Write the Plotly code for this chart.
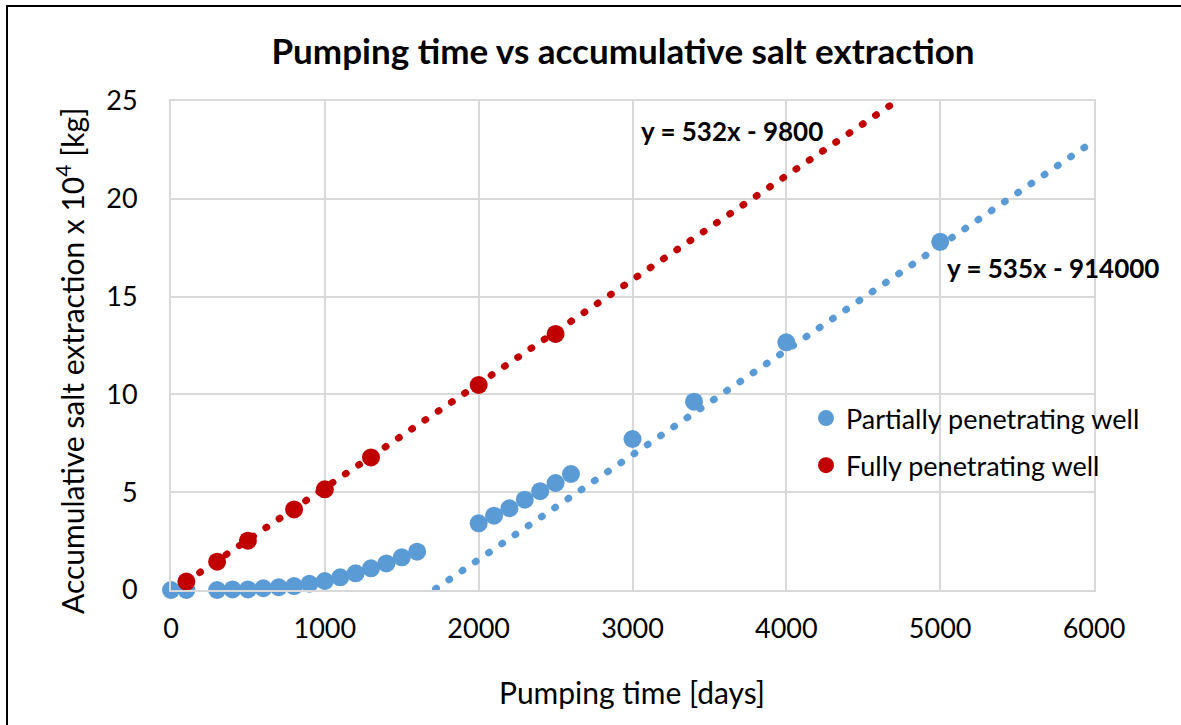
import plotly.graph_objects as go

# ---- data (y in units of 10^4 kg) ----
partial_days = [0, 100, 300, 400, 500, 600, 700, 800, 900, 1000, 1100, 1200, 1300, 1400, 1500, 1600,
                2000, 2100, 2200, 2300, 2400, 2500, 2600, 3000, 3400, 4000, 5000]
partial_salt = [0.0, 0.0, 0.0, 0.03, 0.03, 0.09, 0.14, 0.2, 0.32, 0.46, 0.65, 0.85, 1.11, 1.36, 1.67, 1.96,
                3.41, 3.80, 4.18, 4.62, 5.05, 5.47, 5.93, 7.72, 9.63, 12.66, 17.8]

full_days = [100, 300, 500, 800, 1000, 1300, 2000, 2500]
full_salt = [0.43, 1.45, 2.52, 4.12, 5.15, 6.78, 10.48, 13.09]

# trendline equations as displayed (kg vs days), drawn scaled to the plotted units
partial_trend = {"slope": 535, "intercept": -914000}
full_trend = {"slope": 532, "intercept": -9800}
trend_scale = 1e5
partial_trend_x = [0, 6000]
full_trend_x = [100, 6000]

x_ticks = [0, 1000, 2000, 3000, 4000, 5000, 6000]
y_ticks = [0, 5, 10, 15, 20, 25]

BLUE = "#5b9bd5"
RED = "#c00000"
FONT = "Lato"

def trend_y(tr, xs):
    return [(tr["slope"] * x + tr["intercept"]) / trend_scale for x in xs]

fig = go.Figure()

fig.add_trace(go.Scatter(
    x=partial_days, y=partial_salt, mode="markers", name="Partially penetrating well",
    marker=dict(color=BLUE, size=18, line=dict(width=0)), cliponaxis=False, legendgroup="a"))
fig.add_trace(go.Scatter(
    x=full_days, y=full_salt, mode="markers", name="Fully penetrating well",
    marker=dict(color=RED, size=18, line=dict(width=0)), cliponaxis=False, legendgroup="b"))

fig.add_trace(go.Scatter(
    x=partial_trend_x, y=trend_y(partial_trend, partial_trend_x), mode="lines", showlegend=False,
    line=dict(color=BLUE, width=7, dash="1px,15px"), hoverinfo="skip"))
fig.add_trace(go.Scatter(
    x=full_trend_x, y=trend_y(full_trend, full_trend_x), mode="lines", showlegend=False,
    line=dict(color=RED, width=7, dash="1px,15px"), hoverinfo="skip"))

L, R, T, B = 171, 87, 101, 135
W, H = 1181, 725
pw, ph = W - L - R, H - T - B

def px_to_paper_x(px):
    return (px - L) / pw

def px_to_paper_y(py):
    return (H - B - py) / ph

axis_common = dict(
    showgrid=True, gridcolor="#d9d9d9", gridwidth=2,
    showline=True, linecolor="#d9d9d9", linewidth=2, mirror=True,
    zeroline=False, ticks="", tickfont=dict(family=FONT, size=27, color="#000"),
)

fig.update_layout(
    width=W, height=H,
    margin=dict(l=L, r=R, t=T, b=B),
    paper_bgcolor="white", plot_bgcolor="white",
    title=dict(text="<b>Pumping time vs accumulative salt extraction</b>",
               x=623 / W, xref="container", xanchor="center",
               y=1 - 52 / H, yref="container", yanchor="middle",
               font=dict(family=FONT, size=35, color="#000")),
    xaxis=dict(range=[0, 6000], tickvals=x_ticks, ticklabelstandoff=14, **axis_common),
    yaxis=dict(range=[0, 25], tickvals=y_ticks, ticklabelstandoff=26, **axis_common),
    legend=dict(x=px_to_paper_x(806), y=px_to_paper_y(394), xanchor="left", yanchor="top",
                font=dict(family=FONT, size=27, color="#000"),
                tracegroupgap=9, traceorder="grouped", bgcolor="rgba(0,0,0,0)"),
    showlegend=True,
    annotations=[
        dict(text="<b>y = 532x - 9800</b>", x=3045, y=23.47, xref="x", yref="y",
             xanchor="left", yanchor="middle", showarrow=False,
             font=dict(family=FONT, size=26, color="#000")),
        dict(text="<b>y = 535x - 914000</b>", x=5030, y=16.46, xref="x", yref="y",
             xanchor="left", yanchor="middle", showarrow=False,
             font=dict(family=FONT, size=26, color="#000")),
        dict(text="Accumulative salt extraction x 10<sup>4</sup> [kg]", textangle=-90,
             x=px_to_paper_x(70), y=px_to_paper_y(361), xref="paper", yref="paper",
             xanchor="center", yanchor="middle", showarrow=False,
             font=dict(family=FONT, size=30, color="#000")),
        dict(text="Pumping time [days]",
             x=px_to_paper_x(632), y=px_to_paper_y(692), xref="paper", yref="paper",
             xanchor="center", yanchor="middle", showarrow=False,
             font=dict(family=FONT, size=30, color="#000")),
    ],
    shapes=[
        dict(type="line", xref="paper", yref="paper",
             x0=px_to_paper_x(7), x1=px_to_paper_x(7), y0=px_to_paper_y(H + 5), y1=px_to_paper_y(6),
             line=dict(color="#000", width=2)),
        dict(type="line", xref="paper", yref="paper",
             x0=px_to_paper_x(6), x1=px_to_paper_x(W + 5), y0=px_to_paper_y(6), y1=px_to_paper_y(6),
             line=dict(color="#000", width=2)),
    ],
)

post = """
var s = document.createElement('style');
s.innerHTML = '.scatterlayer .js-line { stroke-linecap: round !important; }';
document.head.appendChild(s);
"""
fig.write_html("out.html", post_script=post)
